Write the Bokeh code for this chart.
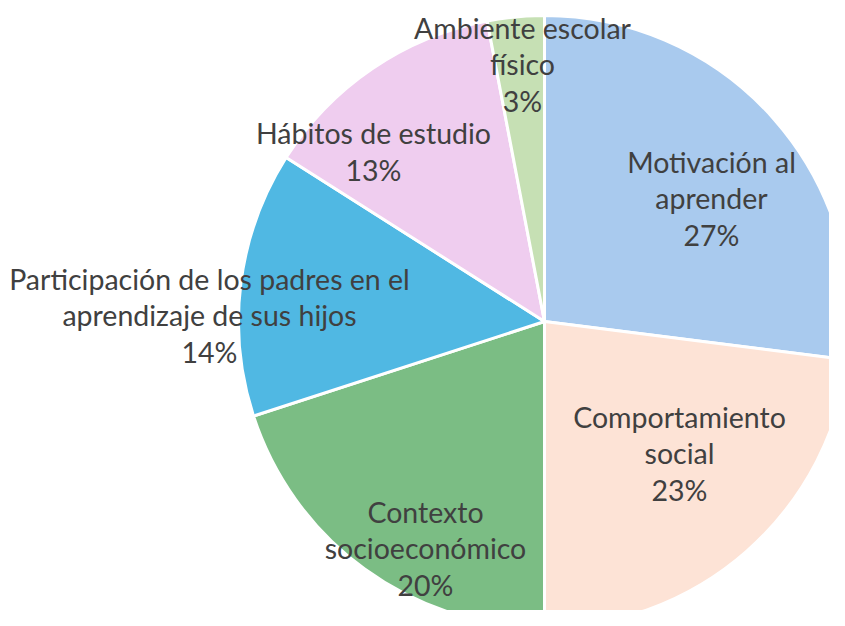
import numpy as np
from bokeh.plotting import figure
from bokeh.models import ColumnDataSource, Range1d
from bokeh.core.properties import value
from bokeh.embed import file_html
from bokeh.resources import INLINE

# ---- data ----
categories = [
    "Motivación al\naprender",
    "Comportamiento\nsocial",
    "Contexto\nsocioeconómico",
    "Participación de los padres en el\naprendizaje de sus hijos",
    "Hábitos de estudio",
    "Ambiente escolar\nfísico",
]
percent = [27, 23, 20, 14, 13, 3]
colors = ["#A9CAEE", "#FDE3D6", "#7BBD84", "#50B8E3", "#EFCDEF", "#C6E0B4"]

# ---- layout (label centres in figure pixel units) ----
W, H = 829, 610
cx, cy, R = 544, 289, 306
label_x = [711, 679, 425, 209, 373, 522]
label_y = [412, 157, 62, 295, 459, 546]

vals = np.array(percent, dtype=float)
frac = vals / vals.sum()
cum = np.concatenate([[0], np.cumsum(frac)])
start = np.pi / 2 - 2 * np.pi * cum[:-1]
end = np.pi / 2 - 2 * np.pi * cum[1:]

src = ColumnDataSource(dict(
    start=start, end=end, color=colors,
    text=[f"{c}\n{p}%" for c, p in zip(categories, percent)],
    lx=label_x, ly=label_y,
))

p = figure(width=W, height=H, output_backend="svg", toolbar_location=None,
           x_range=Range1d(0, W), y_range=Range1d(0, H), min_border=0)
p.axis.visible = False
p.grid.visible = False
p.outline_line_color = None
p.background_fill_color = "white"
p.border_fill_color = "white"

p.wedge(x=cx, y=cy, radius=R, start_angle="start", end_angle="end",
        direction="clock", fill_color="color", line_color="white",
        line_width=3, source=src)

p.text(x="lx", y="ly", text="text", source=src, text_align="center",
       text_baseline="middle", text_font=value("Lato"),
       text_font_size="28.5px", text_color="#404040", text_line_height=1.08)

open("out.html", "w").write(file_html(p, INLINE))
